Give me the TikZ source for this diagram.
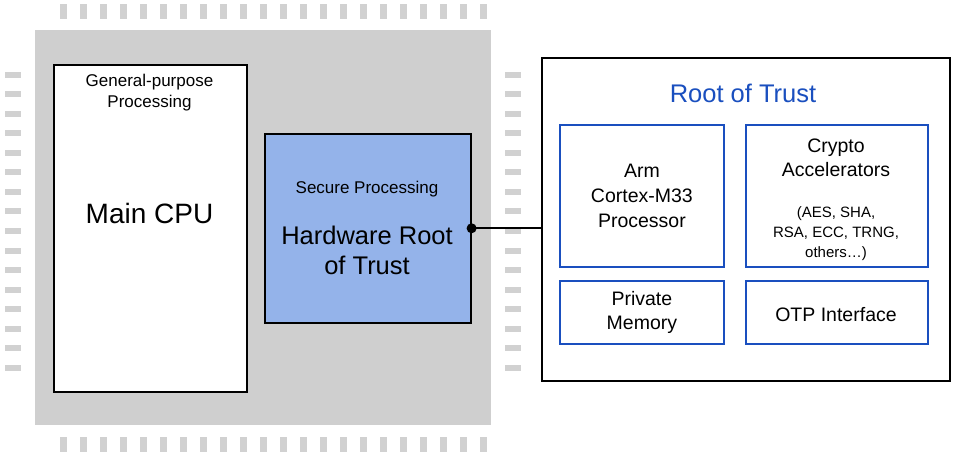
\documentclass[tikz,border=0pt]{standalone}
\usepackage{fontspec}
\setmainfont{Liberation Sans}
\begin{document}
\begin{tikzpicture}[x=1pt,y=-1pt,
  pin/.style={fill=black!18,draw=none},
  blk/.style={draw=black,line width=1.6pt,fill=white},
  lbl/.style={align=center,inner sep=0pt}]
\definecolor{rb}{HTML}{1A4FBF}
\definecolor{hw}{HTML}{94B3EA}
\tikzset{blu/.style={draw=rb,line width=1.8pt,fill=white,anchor=north west}}
\useasboundingbox (0,0) rectangle (958,457);
\foreach \i in {0,...,21}{
  \fill[pin] (60+20*\i,4) rectangle ++(7,15);
  \fill[pin] (60+20*\i,437) rectangle ++(7,15);}
\foreach \i in {0,...,15}{
  \fill[pin] (5,72+19.5*\i) rectangle ++(16,6);
  \fill[pin] (505,72+19.5*\i) rectangle ++(16,6);}
\fill[black!19] (35,30) rectangle (491,425);
\node[blk,minimum width=193,minimum height=327,anchor=north west] (cpu) at (53,64) {};
\node[lbl,font=\fontsize{17}{21}\selectfont] (gp) at (149.5,93) {General-purpose\\Processing};
\node[lbl,font=\fontsize{28}{32}\selectfont] (mc) at (149.5,213) {Main CPU};
\node[draw=black,line width=1.6pt,fill=hw,minimum width=206,minimum height=189,anchor=north west] (hw) at (264,133) {};
\node[lbl,font=\fontsize{17}{20}\selectfont] (sp) at (367,189) {Secure Processing};
\node[lbl,font=\fontsize{25.5}{30}\selectfont] (hr) at (367,250) {Hardware Root\\of Trust};
\node[blk,minimum width=408,minimum height=323,anchor=north west] (rot) at (541,57) {};
\node[lbl,text=rb,font=\fontsize{25.5}{30}\selectfont] (rt) at (743,93) {Root of Trust};
\node[blu,minimum width=164,minimum height=142] (arm) at (559,124) {};
\node[lbl,font=\fontsize{19.5}{25}\selectfont] at (arm.center) {Arm\\Cortex-M33\\Processor};
\node[blu,minimum width=182,minimum height=142] (cr) at (745,124) {};
\node[lbl,font=\fontsize{19.5}{24}\selectfont] at (836,158) {Crypto\\Accelerators};
\node[lbl,font=\fontsize{15}{20}\selectfont] at (836,234) {(AES, SHA,\\RSA, ECC, TRNG,\\others…)};
\node[blu,minimum width=164,minimum height=63] (pm) at (559,280) {};
\node[lbl,font=\fontsize{19.5}{24}\selectfont] at (pm.center) {Private\\Memory};
\node[blu,minimum width=182,minimum height=63] (otp) at (745,280) {};
\node[lbl,font=\fontsize{19.5}{22}\selectfont] at (836,315) {OTP Interface};
\draw[line width=2pt] (hw.east) -- (rot.west |- hw.east);
\fill (hw.east) circle (5);
\end{tikzpicture}
\end{document}
